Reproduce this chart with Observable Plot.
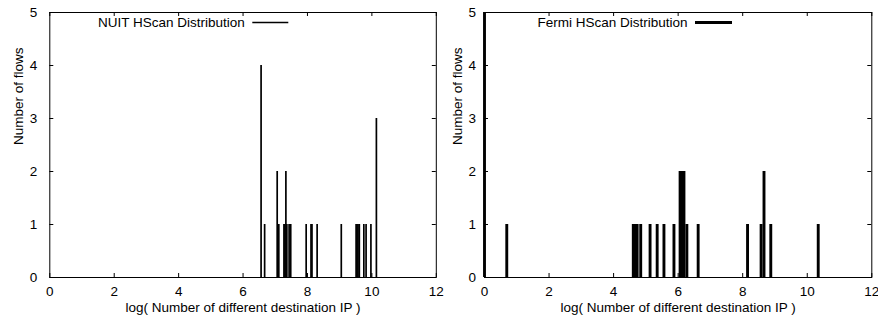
<!DOCTYPE html>
<html>
<head>
<meta charset="utf-8">
<script src="https://cdn.jsdelivr.net/npm/d3@7"></script>
<script src="https://cdn.jsdelivr.net/npm/@observablehq/plot@0.6"></script>
<style>
  html, body { margin: 0; padding: 0; background: #fff; }
  #wrap { display: flex; width: 878px; height: 322px; }
  #wrap svg { display: block; overflow: visible; background: transparent !important; }
  #wrap svg:first-child { position: relative; z-index: 2; }
</style>
</head>
<body>
<div id="wrap"></div>
<script>
// ---- data ----
const xTicks = [0, 2, 4, 6, 8, 10, 12];
const yTicks = [0, 1, 2, 3, 4, 5];
const xLabel = "log( Number of different destination IP )";
const yLabel = "Number of flows";

const nuitTitle = "NUIT HScan Distribution";
const nuitLogIP = [6.56, 6.67, 7.06, 7.11, 7.27, 7.30, 7.33, 7.36, 7.43, 7.48,
                   7.96, 8.11, 8.14, 8.30, 9.05, 9.51, 9.54, 9.57, 9.61,
                   9.75, 9.82, 9.97, 10.14];
const nuitFlows = [4, 1, 2, 1, 1, 1, 2, 1, 1, 1,
                   1, 1, 1, 1, 1, 1, 1, 1, 1,
                   1, 1, 1, 3];

const fermiTitle = "Fermi HScan Distribution";
const fermiLogIP = [0, 0.69, 4.61, 4.66, 4.73, 4.84, 5.13, 5.35, 5.56, 5.87,
                    6.06, 6.11, 6.18, 6.27, 6.62, 8.15, 8.57, 8.66, 8.87, 10.34];
const fermiFlows = [5, 1, 1, 1, 1, 1, 1, 1, 1, 1,
                    2, 2, 2, 1, 1, 1, 1, 2, 1, 1];

const font = "'Liberation Sans', Arial, Helvetica, sans-serif";

function panel(cfg) {
  const data = cfg.xs.map((x, i) => ({x, n: cfg.ns[i]}));
  const tx = 4 / ((439 - cfg.ml - cfg.mr) / 12);   // 4px tick in x units
  const ty = 4 / ((322 - 12 - 45) / 5);             // 4px tick in y units
  const plot = Plot.plot({
    width: 439, height: 322,
    marginLeft: cfg.ml, marginRight: cfg.mr, marginTop: 12, marginBottom: 45,
    x: {domain: [0, 12]},
    y: {domain: [0, 5]},
    style: {fontFamily: font, fontSize: "13.5px", color: "#000", background: "transparent", overflow: "visible"},
    marks: [
      // inward ticks (gnuplot style, mirrored)
      Plot.ruleX(xTicks, {x: d => d, y1: 0, y2: ty, stroke: "#000"}),
      Plot.ruleX(xTicks, {x: d => d, y1: 5, y2: 5 - ty, stroke: "#000"}),
      Plot.ruleY(yTicks, {y: d => d, x1: 0, x2: tx, stroke: "#000"}),
      Plot.ruleY(yTicks, {y: d => d, x1: 12, x2: 12 - tx, stroke: "#000"}),
      Plot.frame({stroke: "#000"}),
      Plot.ruleX(data, {x: "x", y1: 0, y2: "n", stroke: "#000", strokeWidth: cfg.sw}),
      Plot.axisX(xTicks, {tickSize: 0, tickPadding: 9, label: null, fontSize: 13.5, tickFormat: d3.format("d")}),
      Plot.axisY(yTicks, {tickSize: 0, tickPadding: cfg.yPad, label: null, fontSize: 13.5, tickFormat: d3.format("d")}),
      Plot.text([xLabel], {frameAnchor: "bottom", dy: 30, lineAnchor: "middle", fontSize: 13.5}),
      Plot.text([yLabel], {frameAnchor: "left", dx: cfg.yLabDx, rotate: -90, lineAnchor: "middle", fontSize: 13.5}),
      Plot.text([cfg.title], {frameAnchor: "top-left", dx: cfg.keyTextEnd, dy: 10.5, textAnchor: "end", lineAnchor: "middle", fontSize: 13.5})
    ]
  });
  // legend sample line
  d3.select(plot).append("line")
    .attr("x1", cfg.ml + cfg.keyLine[0]).attr("x2", cfg.ml + cfg.keyLine[1])
    .attr("y1", 22.5).attr("y2", 22.5)
    .attr("stroke", "#000").attr("stroke-width", cfg.sw);
  return plot;
}

const wrap = document.getElementById("wrap");
wrap.append(panel({xs: nuitLogIP, ns: nuitFlows, title: nuitTitle, ml: 49.3, mr: 3.2, sw: 1.7,
                   yPad: 12.5, yLabDx: -31, keyTextEnd: 195, keyLine: [203, 239]}));
wrap.append(panel({xs: fermiLogIP, ns: fermiFlows, title: fermiTitle, ml: 45, mr: 6.7, sw: 2.9,
                   yPad: 8.5, yLabDx: -26.5, keyTextEnd: 203, keyLine: [211, 248]}));
</script>
</body>
</html>
